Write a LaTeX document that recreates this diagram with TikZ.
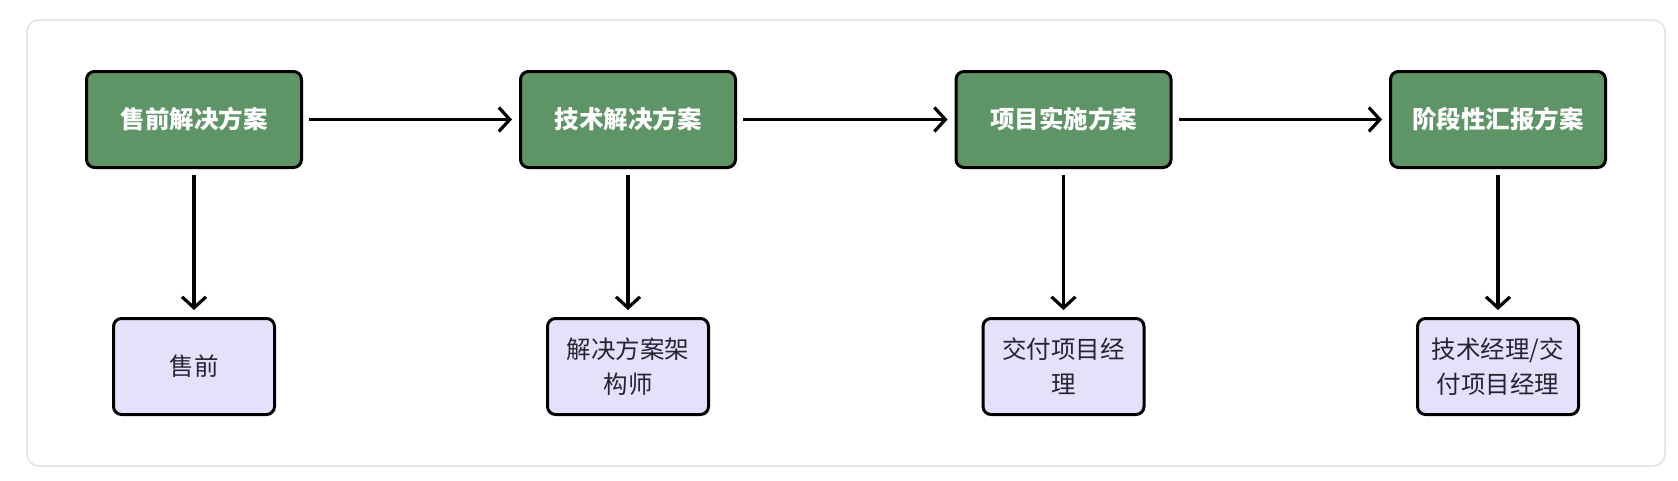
\documentclass[tikz,border=0pt]{standalone}
\usepackage{fontspec}
\newfontfamily\cjk{Noto Sans CJK SC}
\usetikzlibrary{arrows.meta}
\definecolor{stepgreen}{HTML}{5F9467}
\definecolor{rolepurple}{HTML}{E6E1FA}
\definecolor{roletext}{HTML}{262430}
\definecolor{framegray}{HTML}{E2E2E2}
\tikzset{
  stagebox/.style={draw=black, line width=3pt, rounded corners=8pt, fill=stepgreen,
    minimum width=215pt, minimum height=96pt, align=center, text=white,
    font=\cjk\bfseries\fontsize{24.5pt}{35pt}\selectfont},
  rolebox/.style={draw=black, line width=3pt, rounded corners=8pt, fill=rolepurple,
    minimum width=161pt, minimum height=96pt, align=center, text=roletext,
    font=\cjk\fontsize{24.5pt}{35pt}\selectfont},
  flow/.style={draw=black, line width=3.2pt, -{Straight Barb[length=11pt,width=24pt,line width=3.2pt]},
    shorten <=6pt, shorten >=7pt}
}
\begin{document}
\begin{tikzpicture}[x=1pt,y=-1pt]
\useasboundingbox (0,0) rectangle (1678,480);
\fill[white] (0,0) rectangle (1678,480);
\draw[draw=framegray, line width=1.5pt, rounded corners=12pt] (27,20) rectangle (1665,466);

\node[stagebox] (g1) at (194,119.5) {售前解决方案};
\node[stagebox] (g2) at (628,119.5) {技术解决方案};
\node[stagebox] (g3) at (1063.5,119.5) {项目实施方案};
\node[stagebox] (g4) at (1498,119.5) {阶段性汇报方案};

\node[rolebox] (p1) at (194,366.5) {售前};
\node[rolebox] (p2) at (628,366.5) {解决方案架\\构师};
\node[rolebox] (p3) at (1063.5,366.5) {交付项目经\\理};
\node[rolebox] (p4) at (1498,366.5) {技术经理/交\\付项目经理};

\draw[flow] (g1) -- (g2);
\draw[flow] (g2) -- (g3);
\draw[flow] (g3) -- (g4);
\draw[flow] (g1) -- (p1);
\draw[flow] (g2) -- (p2);
\draw[flow] (g3) -- (p3);
\draw[flow] (g4) -- (p4);
\end{tikzpicture}
\end{document}
